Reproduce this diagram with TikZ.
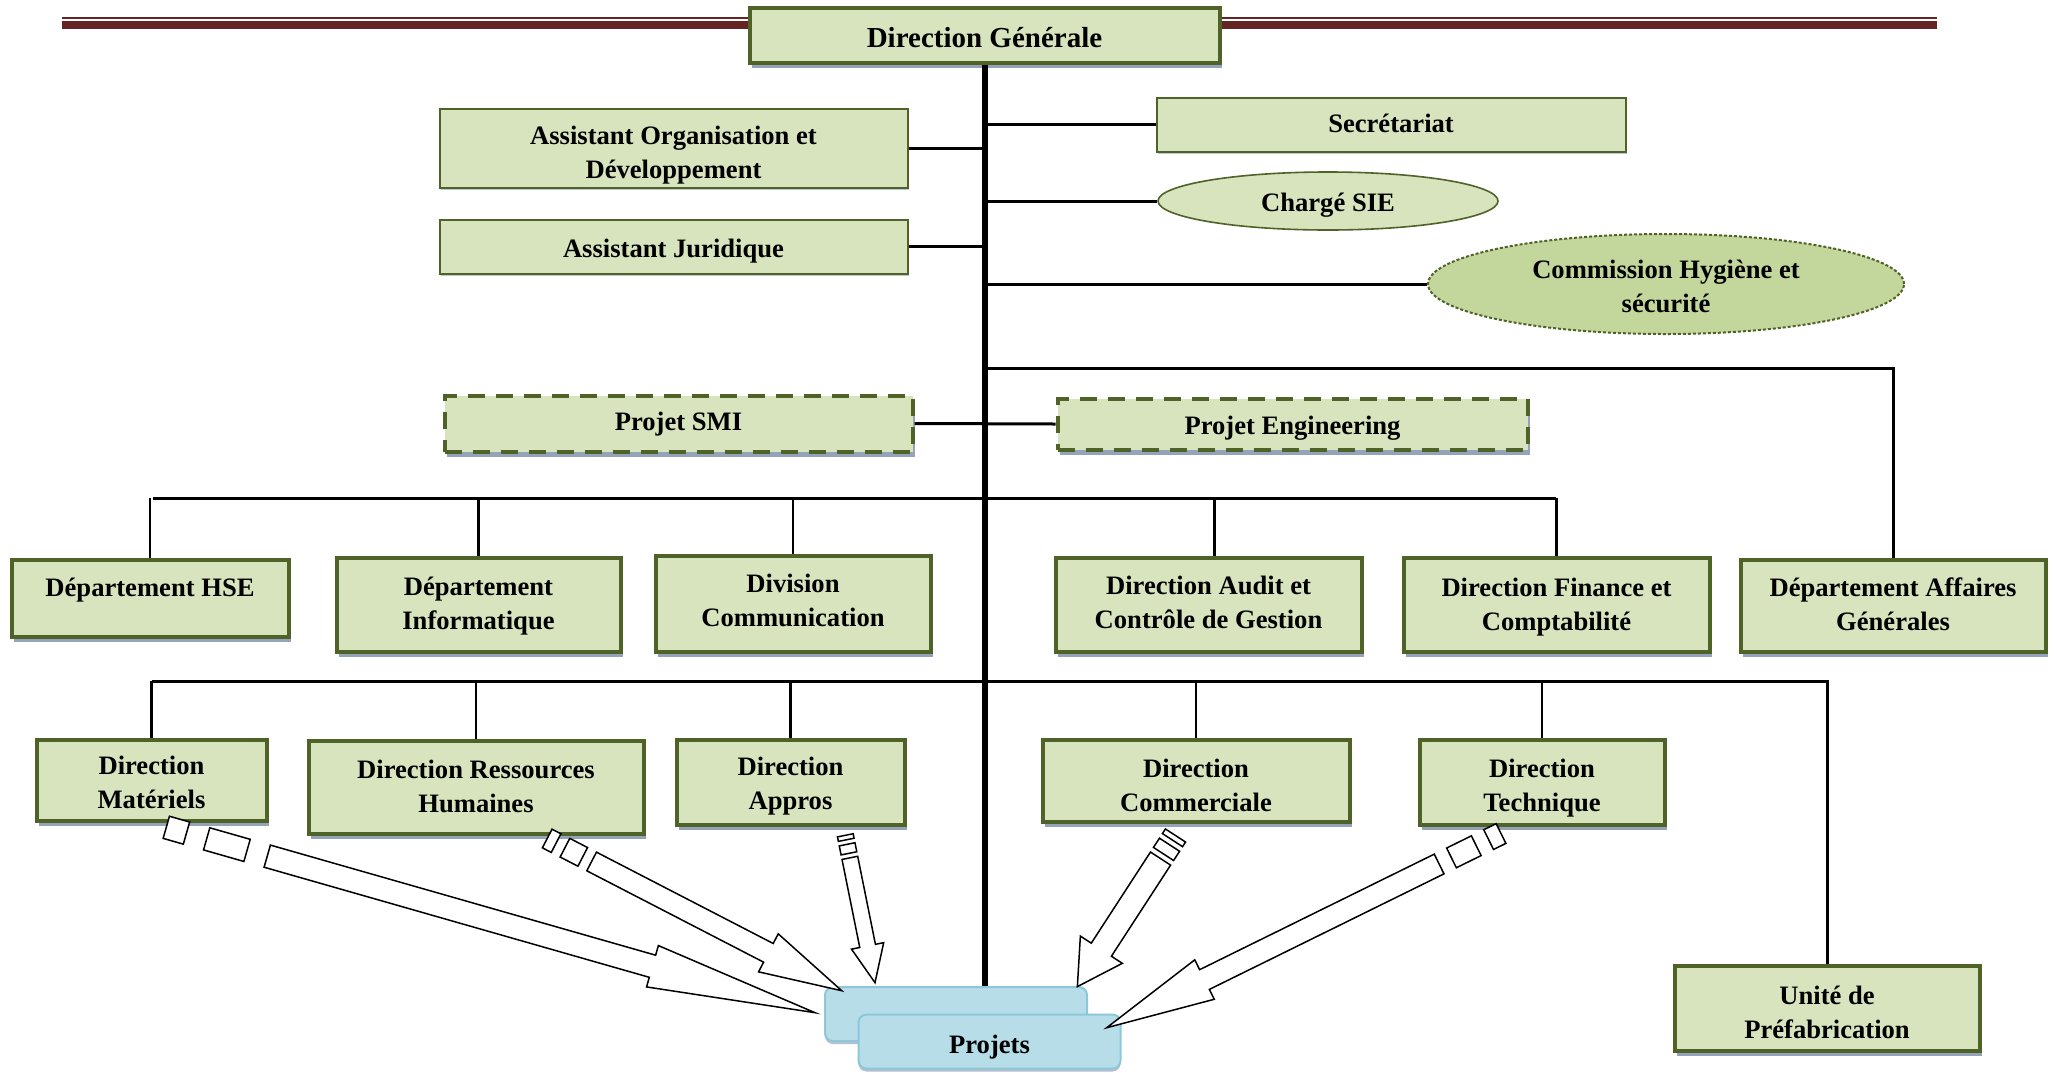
\documentclass[tikz,border=0pt]{standalone}
\usepackage{fontspec}
\setmainfont{Liberation Serif}
\usetikzlibrary{calc,shapes.geometric,shadows}

\definecolor{olive}{RGB}{79,98,40}
\definecolor{boxfill}{RGB}{215,228,189}
\definecolor{ovalfill}{RGB}{195,214,155}
\definecolor{shade}{RGB}{149,163,186}
\definecolor{projfill}{RGB}{183,221,232}
\definecolor{projedge}{RGB}{140,200,218}
\definecolor{maroon}{RGB}{99,36,35}

\tikzset{
  lbl/.style={font=\fontsize{13.3}{17}\selectfont\bfseries, align=center, text=black, inner sep=0pt},
  unitbox/.style={lbl, rectangle, draw=olive, fill=boxfill, line width=2pt,
    drop shadow={shadow xshift=1pt, shadow yshift=-2.5pt, fill=shade, opacity=1}},
  staffbox/.style={lbl, rectangle, draw=olive, fill=boxfill, line width=1pt,
    drop shadow={shadow xshift=0.5pt, shadow yshift=-1pt, fill=shade!60, opacity=1}},
  projectbox/.style={unitbox, dash pattern=on 8.5pt off 5.5pt},
  sieoval/.style={lbl, ellipse, draw=olive, fill=boxfill, line width=0.8pt},
  chsoval/.style={lbl, ellipse, draw=olive, fill=ovalfill, line width=1pt, dash pattern=on 1.5pt off 1pt},
  projnode/.style={lbl, rectangle, rounded corners=4pt, draw=projedge, fill=projfill, line width=1pt,
    drop shadow={shadow xshift=0pt, shadow yshift=-1.5pt, fill=shade!70, opacity=1}},
  trunk/.style={line width=3pt, black},
  link/.style={line width=1.5pt, black},
  droplink/.style={line width=1.25pt, black},
  tipshape/.style={draw=black, fill=white, line width=0.75pt, line join=miter},
}

% label lines stacked with a fixed line pitch, lowered by #1
\newcommand\nudge[2]{\raisebox{-#1}[\height][\depth]{\begin{tabular}{@{}c@{}}#2\end{tabular}}}

% box given by its outer corners (x1,y1) (x2,y2), label lowered by #7
\newcommand\orgbox[8][unitbox]{%
  \node[#1, minimum width={(#5-(#3)-3)*0.5pt}, minimum height={(#6-(#4)-3)*0.5pt}]
    (#2) at ({(#3+#5)/2},{(#4+#6)/2}) {\nudge{#7}{#8}};}

% striped block arrow: start, end, shaft half width, head half width, head length, stripe unit
\newcommand\stripearrow[6]{%
  \path let \p1=(#1), \p2=(#2) in
    \pgfextra{%
      \pgfmathparse{atan2(\y2-\y1,\x2-\x1)}\xdef\sarAng{\pgfmathresult}%
      \pgfmathparse{veclen(\x2-\x1,\y2-\y1)/0.5}\xdef\sarLen{\pgfmathresult}%
      \xdef\sarX{\x1}\xdef\sarY{\y1}};
  \begin{scope}[shift={(\sarX,\sarY)}, rotate=\sarAng]
    \draw[tipshape] (0,-#3) rectangle (#6,#3);
    \draw[tipshape] ({2*#6},-#3) rectangle ({4*#6},#3);
    \draw[tipshape] ({5*#6},-#3) -- ({\sarLen-#5},-#3) -- ({\sarLen-#5},-#4)
      -- (\sarLen,0) -- ({\sarLen-#5},#4) -- ({\sarLen-#5},#3) -- ({5*#6},#3) -- cycle;
  \end{scope}}

\begin{document}
\begin{tikzpicture}[x=0.5pt,y=-0.5pt]
\useasboundingbox (0,0) rectangle (2055,1072);
\fill[white] (0,0) rectangle (2055,1072);

% header rules
\fill[maroon] (62,16.7) rectangle (1937,18.7);
\fill[maroon] (62,21) rectangle (1937,29);

% general management and staff
\orgbox[unitbox,font=\fontsize{14.5}{18}\selectfont\bfseries]{dg}{748}{6}{1221}{64}{2.5pt}{Direction Générale}
\orgbox[staffbox]{aod}{438}{107}{909}{189}{3.3pt}{Assistant Organisation et\\Développement}
\orgbox[staffbox]{sec}{1155}{96}{1627}{153}{0.5pt}{Secrétariat}
\orgbox[staffbox]{ajur}{438}{218}{909}{275}{2pt}{Assistant Juridique}
\node[sieoval, minimum width=170pt, minimum height=29pt] (sie) at (1328,201) {\nudge{2pt}{Chargé SIE}};
\node[chsoval, minimum width=238pt, minimum height=50pt] (chs) at (1666,284) {\nudge{2.3pt}{Commission Hygiène et\\sécurité}};
\orgbox[projectbox]{smi}{443}{394}{914}{453}{0pt}{Projet SMI}
\orgbox[projectbox]{eng}{1056}{397}{1529}{451}{2pt}{Projet Engineering}

% first level of departments
\orgbox{hse}{10}{558}{290}{638}{4.3pt}{Département HSE\\\mbox{}}
\orgbox{info}{335}{556}{622}{653}{0.6pt}{Département\\Informatique}
\orgbox{comm}{654}{554}{932}{653}{-0.6pt}{Division\\Communication}
\orgbox{audit}{1054}{556}{1363}{653}{0pt}{Direction Audit et\\Contrôle de Gestion}
\orgbox{fin}{1402}{556}{1711}{653}{1pt}{Direction Finance et\\Comptabilité}
\orgbox{dag}{1739}{558}{2047}{653}{0.5pt}{Département Affaires\\Générales}

% operational directions
\orgbox{mat}{35}{738}{268}{822}{2.3pt}{Direction\\Matériels}
\orgbox{rh}{307}{739}{645}{835}{1pt}{Direction Ressources\\Humaines}
\orgbox{app}{675}{738}{906}{826}{2pt}{Direction\\Appros}
\orgbox{com}{1041}{738}{1351}{823}{3.6pt}{Direction\\Commerciale}
\orgbox{tech}{1418}{738}{1666}{826}{2.7pt}{Direction\\Technique}
\orgbox{unit}{1673}{964}{1981}{1052}{3.3pt}{Unité de\\Préfabrication}

% projects
\node[projnode, minimum width=131pt, minimum height=27pt] (pb) at (956,1014) {};
\node[projnode, minimum width=131pt, minimum height=27pt] (pf) at (989.5,1041.5) {\nudge{2.6pt}{Projets}};

% hierarchy lines
\draw[trunk] (dg.south) -- (dg.south |- pb.north);
\draw[link] (aod.east) -- (aod.east -| dg.south);
\draw[link] (sec.west -| dg.south) -- (sec.west);
\draw[link] (sie.west -| dg.south) -- (sie.west);
\draw[link] (ajur.east) -- (ajur.east -| dg.south);
\draw[link] (chs.west -| dg.south) -- (chs.west);
\coordinate (kdag) at (987,368);
\draw[link] (kdag -| dg.south) -| (dag.north);
\draw[link] (smi.east) -- (eng.west);

\coordinate (busA) at (153,498);
\coordinate (busB) at (1556,498);
\draw[link] (busA) -- (busB);
\coordinate (auditTop) at ($(audit.north)+(6,0)$);
\foreach \n in {hse,info,comm,fin}
  \draw[droplink] (\n.north) -- (\n.north |- busA);
\draw[droplink] (auditTop) -- (auditTop |- busA);

\coordinate (busC) at (152,681);
\draw[link] (busC) -| (unit.north);
\foreach \n in {mat,rh,app,com,tech}
  \draw[droplink] (\n.north) -- (\n.north |- busC);

% striped arrows towards the projects
\coordinate (a1s) at (166.3,827.3);   \coordinate (a1e) at (815,1012.7);
\coordinate (a2s) at (547.2,838.5);   \coordinate (a2e) at (841.7,990.7);
\coordinate (a3s) at (845.3,835.3);   \coordinate (a3e) at (875,982.7);
\coordinate (a4s) at (1175.5,835.5);  \coordinate (a4e) at (1077.3,986.7);
\coordinate (a5s) at (1501,833.5);    \coordinate (a5e) at (1106.7,1027.7);
\stripearrow{a1s}{a1e}{11.5}{21.5}{169}{21}
\stripearrow{a2s}{a2e}{10.5}{21.4}{82.5}{10}
\stripearrow{a3s}{a3e}{8}{16.4}{37.5}{4.6}
\stripearrow{a4s}{a4e}{12}{25}{44}{5.5}
\stripearrow{a5s}{a5e}{11}{22}{109}{13.8}
\end{tikzpicture}
\end{document}
